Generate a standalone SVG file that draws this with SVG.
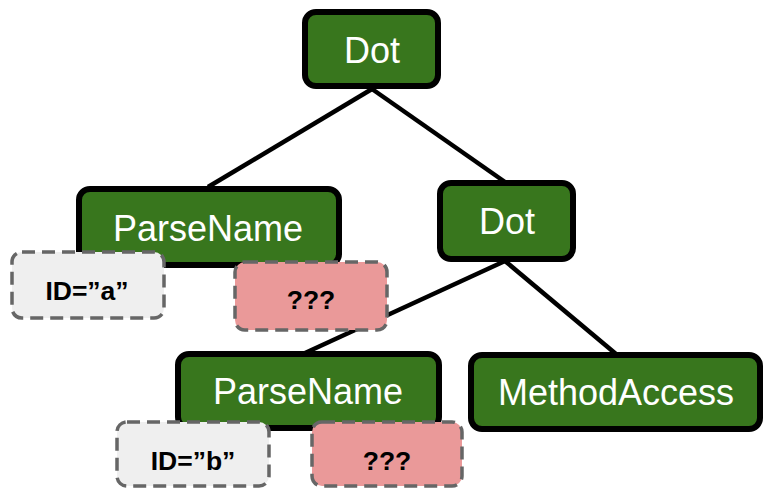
<svg xmlns="http://www.w3.org/2000/svg" width="763" height="490" viewBox="0 0 763 490">
  <style>
    .edge { stroke: #000; stroke-width: 4.5; fill: none; }
    .node rect { fill: #38761d; stroke: #000; stroke-width: 6; }
    .node text { fill: #fff; font-family: "Liberation Sans", Arial, sans-serif; font-size: 36px; text-anchor: middle; }
    .tag rect { stroke: #666; stroke-width: 3.5; stroke-dasharray: 13 7; }
    .tag text { fill: #000; font-family: "Liberation Sans", Arial, sans-serif; font-size: 26.5px; font-weight: bold; text-anchor: middle; }
    .id rect { fill: #efefef; }
    .unknown rect { fill: #ea9999; }
  </style>
  <rect width="763" height="490" fill="#fff"/>

  <!-- tree edges -->
  <g id="edges">
    <line class="edge" x1="372" y1="89" x2="208" y2="187"/>
    <line class="edge" x1="372" y1="89" x2="505" y2="182"/>
    <line class="edge" x1="505" y1="261" x2="305" y2="353"/>
    <line class="edge" x1="505" y1="261" x2="616" y2="354"/>
  </g>

  <g id="dot-root" class="node">
    <rect x="305" y="12" width="133" height="74" rx="11"/>
    <text x="372" y="63">Dot</text>
  </g>

  <g id="parsename-a" class="node">
    <rect x="79" y="189" width="260" height="76" rx="11"/>
    <text x="208" y="241">ParseName</text>
  </g>

  <g id="dot-inner" class="node">
    <rect x="440" y="183" width="133" height="76" rx="11"/>
    <text x="507" y="234">Dot</text>
  </g>

  <g id="parsename-b" class="node">
    <rect x="178" y="354" width="261" height="74" rx="11"/>
    <text x="308" y="404">ParseName</text>
  </g>

  <g id="method-access" class="node">
    <rect x="471" y="355" width="289" height="74" rx="11"/>
    <text x="616" y="405">MethodAccess</text>
  </g>

  <g id="id-a" class="tag id">
    <rect x="12" y="252" width="152" height="66" rx="10"/>
    <text x="87" y="300">ID=”a”</text>
  </g>

  <g id="unknown-a" class="tag unknown">
    <rect x="235" y="262" width="152" height="68" rx="10"/>
    <text x="311" y="309">???</text>
  </g>

  <g id="id-b" class="tag id">
    <rect x="117" y="422" width="152" height="64" rx="10"/>
    <text x="193" y="470">ID=”b”</text>
  </g>

  <g id="unknown-b" class="tag unknown">
    <rect x="312" y="422" width="150" height="64" rx="10"/>
    <text x="387" y="470">???</text>
  </g>
</svg>
